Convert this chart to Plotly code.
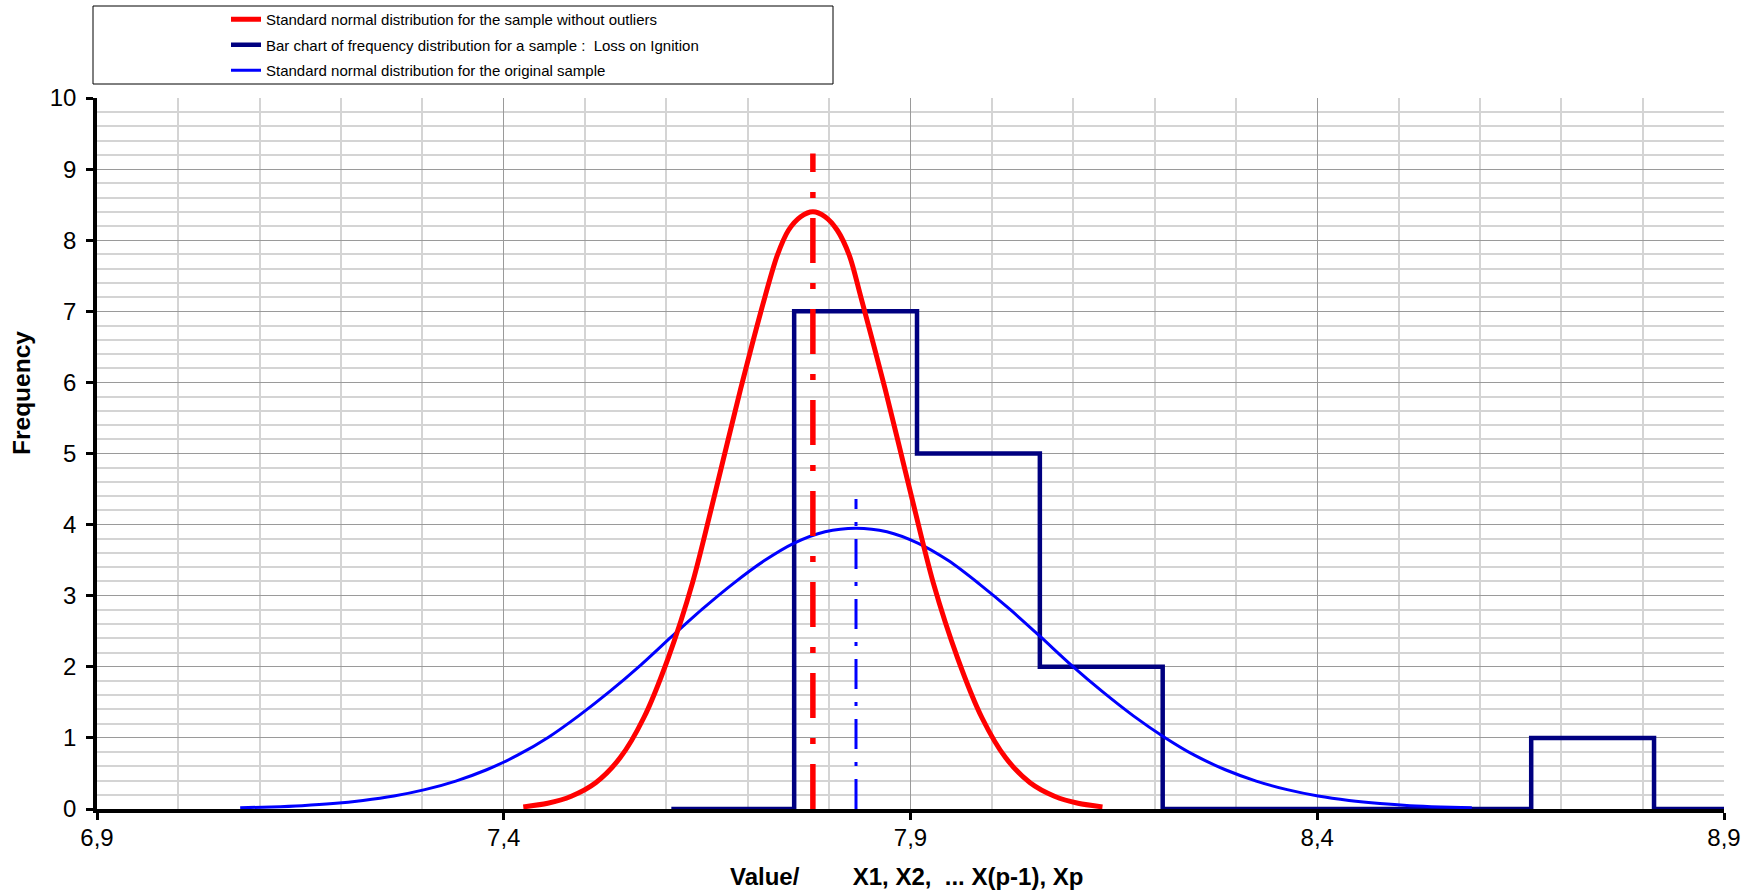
import plotly.graph_objects as go

# ---------------- data ----------------
x_range = [6.9, 8.9]
y_range = [0, 10]

# histogram (step outline) of the sample "Loss on Ignition"
bin_edges = [7.606, 7.757, 7.908, 8.059, 8.210, 8.361, 8.512, 8.663, 8.814]
bin_counts = [0, 7, 5, 2, 0, 0, 0, 1]

# normal curve for the sample without outliers (red)
red_x = [7.424, 7.454, 7.483, 7.513, 7.543, 7.572, 7.602, 7.632, 7.661, 7.691,
         7.721, 7.736, 7.750, 7.765, 7.780, 7.795, 7.810, 7.825, 7.839, 7.869,
         7.899, 7.928, 7.958, 7.988, 8.017, 8.047, 8.077, 8.106, 8.136]
red_y = [0.03, 0.08, 0.18, 0.37, 0.72, 1.28, 2.12, 3.18, 4.50, 5.90,
         7.20, 7.78, 8.14, 8.33, 8.40, 8.33, 8.14, 7.78, 7.20, 5.90,
         4.50, 3.18, 2.12, 1.28, 0.72, 0.37, 0.18, 0.08, 0.03]
red_mean = 7.780
red_mean_top = 9.22

# normal curve for the original sample (blue)
blue_x = [7.076, 7.114, 7.152, 7.190, 7.227, 7.265, 7.303, 7.341, 7.379, 7.417,
          7.455, 7.492, 7.530, 7.568, 7.606, 7.644, 7.682, 7.720, 7.757, 7.795,
          7.833, 7.871, 7.909, 7.947, 7.984, 8.022, 8.060, 8.098, 8.136, 8.174,
          8.212, 8.249, 8.287, 8.325, 8.363, 8.401, 8.439, 8.477, 8.514, 8.552,
          8.590]
blue_y = [0.017, 0.029, 0.047, 0.076, 0.120, 0.183, 0.272, 0.393, 0.552, 0.757,
          1.01, 1.31, 1.65, 2.02, 2.42, 2.81, 3.17, 3.49, 3.74, 3.90,
          3.95, 3.90, 3.74, 3.49, 3.17, 2.81, 2.42, 2.02, 1.65, 1.31,
          1.01, 0.757, 0.552, 0.393, 0.272, 0.183, 0.120, 0.076, 0.047, 0.029,
          0.017]
blue_mean = 7.833
blue_mean_top = 4.36

legend_names = [
    "Standard normal distribution for the sample without outliers",
    "Bar chart of frequency distribution for a sample :  Loss on Ignition",
    "Standard normal distribution for the original sample",
]
x_title = "Value/\u00a0\u00a0\u00a0\u00a0\u00a0\u00a0\u00a0\u00a0X1, X2,\u00a0\u00a0... X(p-1), Xp"
y_title = "Frequency"

# ---------------- colours / styles ----------------
RED = "#ff0000"
NAVY = "#000080"
BLUE = "#0000ff"
FONT = "Liberation Sans, Arial, sans-serif"

fig = go.Figure()

# step outline of the frequency bars
step_x = bin_edges + [x_range[1]]
step_y = bin_counts + [0, 0]
fig.add_trace(go.Scatter(
    x=step_x, y=step_y, mode="lines", line=dict(color=NAVY, width=4.5, shape="hv"),
    name=legend_names[1], legendrank=2, legendgroup="g2",
    cliponaxis=False, hoverinfo="skip",
))

# blue normal curve
fig.add_trace(go.Scatter(
    x=blue_x, y=blue_y, mode="lines",
    line=dict(color=BLUE, width=3, shape="spline", smoothing=0.8),
    name=legend_names[2], legendrank=3, legendgroup="g3", cliponaxis=False,
))

# red normal curve
fig.add_trace(go.Scatter(
    x=red_x, y=red_y, mode="lines",
    line=dict(color=RED, width=5, shape="spline", smoothing=0.8),
    name=legend_names[0], legendrank=1, legendgroup="g1", cliponaxis=False,
))

# mean lines
fig.add_trace(go.Scatter(
    x=[red_mean, red_mean], y=[0, red_mean_top], mode="lines",
    line=dict(color=RED, width=5.5, dash="45px,20px,6px,20px"),
    showlegend=False, hoverinfo="skip",
))
fig.add_trace(go.Scatter(
    x=[blue_mean, blue_mean], y=[0, blue_mean_top], mode="lines",
    line=dict(color=BLUE, width=3, dash="30px,13px,4px,13px"),
    showlegend=False, hoverinfo="skip",
))

L, R, T, B = 97, 30, 98, 82
W, H = 1754, 891
pw = W - L - R
ph = H - T - B


def px_x(px):
    return (px - L) / pw


def px_y(py):
    return (H - B - py) / ph


fig.update_layout(
    width=W, height=H,
    margin=dict(l=L, r=R, t=T, b=B, autoexpand=False),
    paper_bgcolor="white", plot_bgcolor="white",
    separators=", ",
    font=dict(family=FONT, color="black"),
    showlegend=True,
    legend=dict(
        x=px_x(226), y=px_y(3), xanchor="left", yanchor="top",
        bgcolor="rgba(0,0,0,0)", borderwidth=0,
        font=dict(family=FONT, size=15, color="black"),
        traceorder="grouped", tracegroupgap=3,
    ),
    shapes=[dict(
        type="rect", xref="paper", yref="paper",
        x0=px_x(93), x1=px_x(833), y0=px_y(84), y1=px_y(6),
        line=dict(color="black", width=1), fillcolor="white", layer="below",
    )],
    annotations=[
        dict(text=x_title, xref="paper", yref="paper", x=px_x(906), y=px_y(876),
             xanchor="center", yanchor="middle", showarrow=False,
             font=dict(family=FONT, size=24, color="black", weight="bold")),
        dict(text=y_title, xref="paper", yref="paper", x=px_x(21), y=px_y(393),
             xanchor="center", yanchor="middle", showarrow=False, textangle=-90,
             font=dict(family=FONT, size=24.5, color="black", weight="bold")),
    ],
)

fig.update_xaxes(
    range=x_range, tick0=x_range[0], dtick=0.5, tickformat=".1f",
    showgrid=True, gridcolor="#9a9a9a", gridwidth=1,
    minor=dict(dtick=0.1, tick0=x_range[0], showgrid=True, gridcolor="#d4d4d4",
               gridwidth=1.5, ticks=""),
    showline=True, linecolor="black", linewidth=3.5,
    ticks="outside", ticklen=7, tickwidth=3, tickcolor="black",
    tickfont=dict(family=FONT, size=24, color="black"),
    ticklabelstandoff=-3,
    zeroline=False, layer="below traces", fixedrange=True,
)
fig.update_yaxes(
    range=y_range, tick0=0, dtick=1,
    showgrid=True, gridcolor="#9a9a9a", gridwidth=1,
    minor=dict(dtick=0.2, tick0=0, showgrid=True, gridcolor="#d4d4d4",
               gridwidth=1.5, ticks=""),
    showline=True, linecolor="black", linewidth=3.5,
    ticks="outside", ticklen=7, tickwidth=3, tickcolor="black",
    tickfont=dict(family=FONT, size=24, color="black"),
    ticklabelstandoff=5,
    zeroline=False, layer="below traces", fixedrange=True,
)

fig.write_html("out.html")
